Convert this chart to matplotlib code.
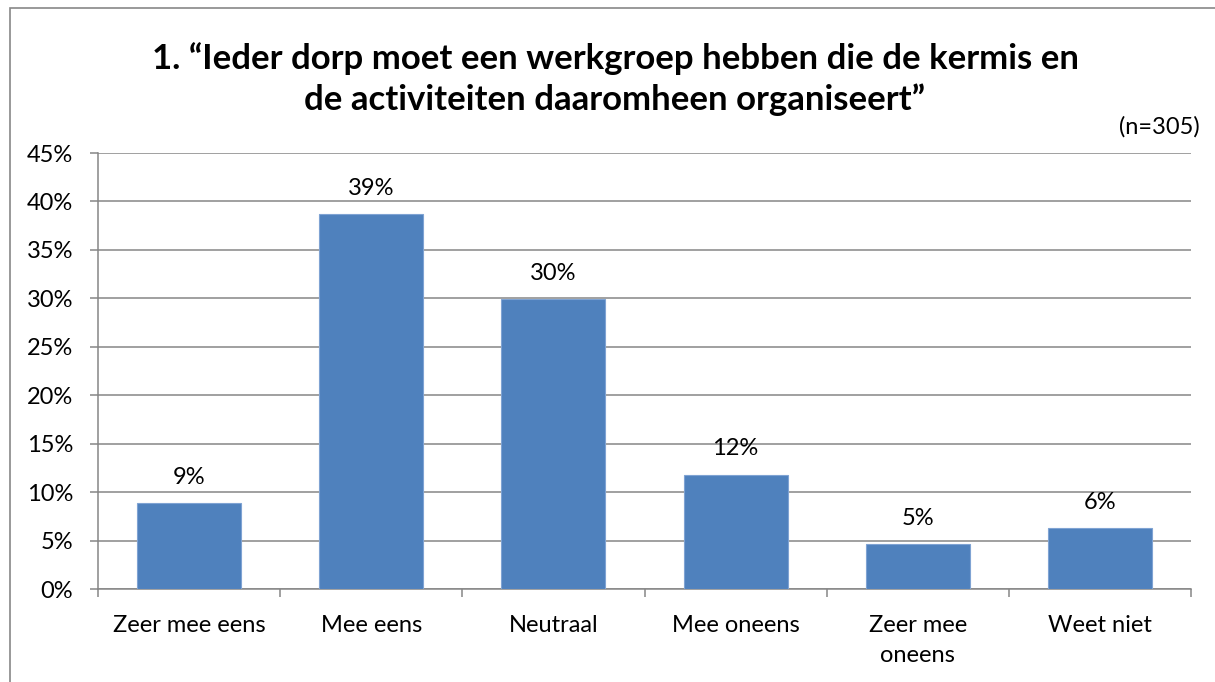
import matplotlib
matplotlib.use("Agg")
import matplotlib.pyplot as plt
from matplotlib.patches import Rectangle

categories = ["Zeer mee eens", "Mee eens", "Neutraal", "Mee oneens", "Zeer mee\noneens", "Weet niet"]
values = [8.85, 38.7, 29.9, 11.8, 4.6, 6.3]
labels = ["9%", "39%", "30%", "12%", "5%", "6%"]
yticks = [0, 5, 10, 15, 20, 25, 30, 35, 40, 45]
title = "1. \u201cIeder dorp moet een werkgroep hebben die de kermis en\nde activiteiten daaromheen organiseert\u201d"
note = "(n=305)"

plt.rcParams['font.family'] = ['Lato', 'DejaVu Sans']
W, H = 1215, 682
fig = plt.figure(figsize=(W/100, H/100), dpi=100)
fig.patch.set_facecolor("white")

# outer chart border
fig.add_artist(Rectangle((10/W, -0.05), 1.2, (H-8)/H + 0.05, transform=fig.transFigure,
                         fill=False, edgecolor="#878787", linewidth=1.2))

ax = fig.add_axes([98/W, (H-589)/H, (1191-98)/W, (589-153)/H])
grid_c = "#868686"
x = list(range(len(categories)))
ax.bar(x, values, width=0.57, color="#4F81BD", edgecolor="#7FA3D3", linewidth=0.8, zorder=3)
ax.set_xlim(-0.5, len(categories) - 0.5)
ax.set_ylim(0, 45)
ax.set_yticks(yticks)
ax.set_yticklabels([f"{v}%" for v in yticks])
ax.yaxis.grid(True, color=grid_c, linewidth=1.1, zorder=0)
ax.set_axisbelow(True)
for s in ["top", "right"]:
    ax.spines[s].set_visible(False)
for s in ["left", "bottom"]:
    ax.spines[s].set_color(grid_c)
    ax.spines[s].set_linewidth(1.1)
ax.set_xticks([i - 0.5 for i in range(len(categories) + 1)])
ax.set_xticklabels([])
ax.set_xticks(x, minor=True)
ax.set_xticklabels(categories, minor=True, fontsize=17, linespacing=1.5)
ax.tick_params(axis="x", which="major", length=6, color=grid_c, width=1.1)
ax.tick_params(axis="x", which="minor", length=0, pad=19)
ax.tick_params(axis="y", length=6, color=grid_c, width=1.1, labelsize=17, pad=12)

for xi, v, lab in zip(x, values, labels):
    ax.annotate(lab, (xi, v), xytext=(0, 11), textcoords="offset points",
                ha="center", va="bottom", fontsize=17)

fig.text(615/W, (H-79)/H, title, ha="center", va="center", fontsize=25,
         fontweight="bold", linespacing=1.32)
fig.text(1200/W, (H-127)/H, note, ha="right", va="center", fontsize=17)

fig.savefig("out.png", dpi=100)
